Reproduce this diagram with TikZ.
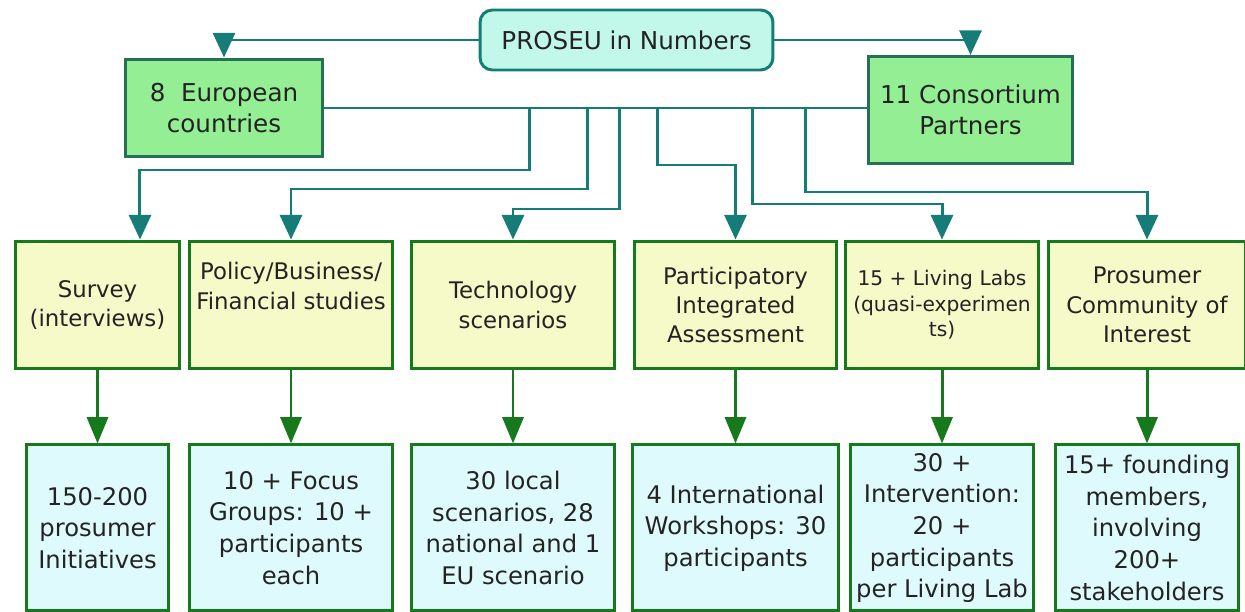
\documentclass[tikz,border=0pt]{standalone}
\usepackage{fontspec}
\setmainfont{DejaVu Sans}
\usepackage{xcolor}
\usetikzlibrary{arrows.meta,positioning}

\definecolor{tealline}{RGB}{22,124,120}
\definecolor{topfill}{RGB}{194,248,234}
\definecolor{countryfill}{RGB}{148,238,148}
\definecolor{countryline}{RGB}{38,112,88}
\definecolor{stagefill}{RGB}{246,249,200}
\definecolor{greenline}{RGB}{22,122,28}
\definecolor{resultfill}{RGB}{222,250,253}
\definecolor{txt}{RGB}{35,35,35}

\begin{document}
\begin{tikzpicture}[
  x=0.02cm, y=-0.02cm,
  text=txt,
  tline/.style={line width=1.7pt, draw=tealline},
  tarr/.style={-{Triangle[width=12.5pt,length=14pt]}, line width=1.7pt, draw=tealline},
  garr/.style={-{Triangle[width=12pt,length=15pt]}, line width=1.7pt, draw=greenline},
  headbox/.style={draw=tealline, line width=1.7pt, fill=topfill, rounded corners=7pt, align=center, minimum width=5.86cm, minimum height=1.2cm, font=\fontsize{14}{18}\selectfont},
  countbox/.style={draw=countryline, line width=1.7pt, fill=countryfill, align=center, font=\fontsize{14}{18}\selectfont},
  stagebox/.style={draw=greenline, line width=1.7pt, fill=stagefill, align=center, inner sep=2pt, minimum height=2.56cm, font=\fontsize{13}{16.7}\selectfont},
  resbox/.style={draw=greenline, line width=1.7pt, fill=resultfill, align=center, inner sep=2pt, minimum height=3.32cm, font=\fontsize{13.8}{18}\selectfont}
]
\useasboundingbox (0,0) rectangle (1245,612);
\fill[white] (0,0) rectangle (1245,612);

\node[headbox] (top) at (626.5,40) {PROSEU in Numbers};
\node[countbox, minimum width=3.96cm, minimum height=1.96cm] (eu) at (224,108) {8\ \ European\\countries};
\node[countbox, minimum width=4.1cm, minimum height=2.14cm] (cons) at (970.5,110) {11 Consortium\\Partners};

\node[stagebox, minimum width=3.3cm] (survey) at (97.5,305) {Survey\\(interviews)};
\node[stagebox, minimum width=4.08cm] (policy) at (291,305) {Policy/Business/\\Financial studies\\\strut};
\node[stagebox, minimum width=4.08cm] (tech) at (513,305) {Technology\\scenarios};
\node[stagebox, minimum width=4.06cm] (assess) at (735.5,305) {Participatory\\Integrated\\Assessment};
\node[stagebox, minimum width=3.88cm, font=\fontsize{11.5}{14.5}\selectfont] (labs) at (942,305) {15 + Living Labs\\(quasi-experimen\\ts)};
\node[stagebox, minimum width=3.96cm] (community) at (1147,305) {Prosumer\\Community of\\Interest};

\node[resbox, minimum width=2.86cm, below=1.46cm of survey] (initiatives) {150-200\\prosumer\\Initiatives};
\node[resbox, minimum width=4.08cm, below=1.46cm of policy] (focus) {10 + Focus\\Groups: 10 +\\participants\\each};
\node[resbox, minimum width=4.08cm, below=1.46cm of tech] (scen) {30 local\\scenarios, 28\\national and 1\\EU scenario};
\node[resbox, minimum width=4.12cm, below=1.46cm of assess] (workshops) {4 International\\Workshops: 30\\participants};
\node[resbox, minimum width=3.66cm, below=1.46cm of labs] (interv) {30 +\\Intervention:\\20 +\\participants\\per Living Lab};
\node[resbox, minimum width=3.66cm, below=1.46cm of community] (members) {15+ founding\\members,\\involving\\200+\\stakeholders};

\draw[tarr] (top.west) -| (eu.north);
\draw[tarr] (top.east) -| (cons.north);
\draw[tline] (eu.east) -- coordinate[pos=0.378] (j1) coordinate[pos=0.486] (j2) coordinate[pos=0.545] (j3)
  coordinate[pos=0.615] (j4) coordinate[pos=0.789] (j5) coordinate[pos=0.888] (j6) (eu.east -| cons.west);
\draw[tarr] (j1) -- ++(0,62) -| ([xshift=0.85cm]survey.north);
\draw[tarr] (j2) -- ++(0,81) -| (policy.north);
\draw[tarr] (j3) -- ++(0,101) -| (tech.north);
\draw[tarr] (j4) -- ++(0,57) -| (assess.north);
\draw[tarr] (j5) -- ++(0,96) -| (labs.north);
\draw[tarr] (j6) -- ++(0,84) -| (community.north);

\draw[garr] (survey) -- (initiatives);
\draw[garr] (policy) -- (focus);
\draw[garr] (tech) -- (scen);
\draw[garr] (assess) -- (workshops);
\draw[garr] (labs) -- (interv);
\draw[garr] (community) -- (members);
\end{tikzpicture}
\end{document}
